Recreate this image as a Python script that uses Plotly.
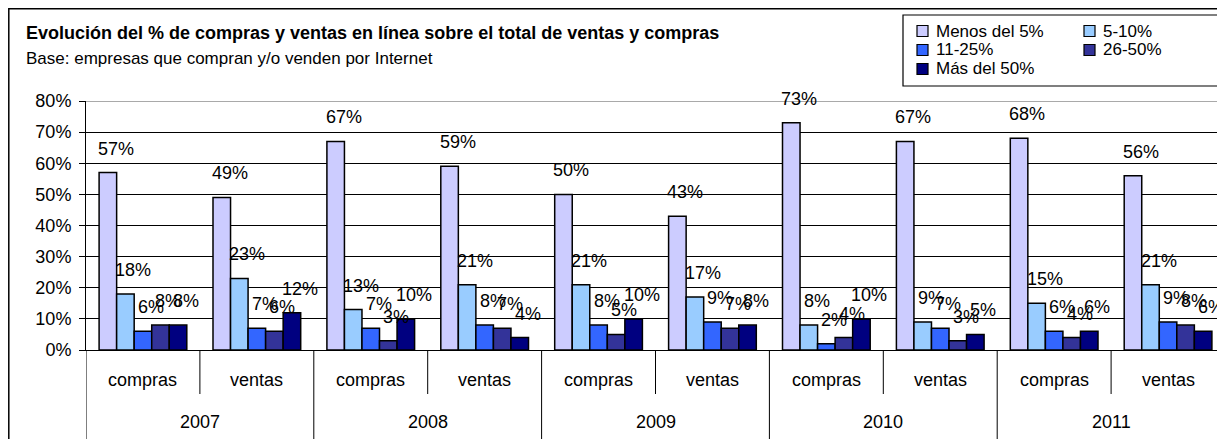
import plotly.graph_objects as go

# ---------------- data ----------------
years = ["2007", "2008", "2009", "2010", "2011"]
kinds = ["compras", "ventas"]
series_names = ["Menos del 5%", "5-10%", "11-25%", "26-50%", "Más del 50%"]
menos_5 = [57, 49, 67, 59, 50, 43, 73, 67, 68, 56]
de_5_10 = [18, 23, 13, 21, 21, 17, 8, 9, 15, 21]
de_11_25 = [6, 7, 7, 8, 8, 9, 2, 7, 6, 9]
de_26_50 = [8, 6, 3, 7, 5, 7, 4, 3, 4, 8]
mas_50 = [8, 12, 10, 4, 10, 8, 10, 5, 6, 6]
y_ticks = [0, 10, 20, 30, 40, 50, 60, 70, 80]

title_text = "Evolución del % de compras y ventas en línea sobre el total de ventas y compras"
subtitle_text = "Base: empresas que compran y/o venden por Internet"

# ---------------- styling ----------------
FONT = "Arial, 'Liberation Sans', sans-serif"
colors = ["#CCCCFF", "#99CCFF", "#3366FF", "#333399", "#000080"]
BARGAP = 0.23

OFF = 8  # page body margin
W, H = 1225 - OFF, 439 - OFF
ML, MR, MT, MB = 86 - OFF, 0, 101 - OFF, 439 - 350
PW = W - ML - MR
PH = H - MT - MB


def px_x(px):
    """reference-picture pixel x -> paper x"""
    return (px - OFF - ML) / PW


def px_y(py):
    """reference-picture pixel y -> paper y"""
    return (H + OFF - MB - py) / PH


categories = [(y, k) for y in years for k in kinds]
xpos = list(range(len(categories)))
all_series = [menos_5, de_5_10, de_11_25, de_26_50, mas_50]

fig = go.Figure()
for j, (name, vals) in enumerate(zip(series_names, all_series)):
    fig.add_trace(go.Bar(
        x=xpos, y=vals, name=name,
        marker=dict(color=colors[j], line=dict(color="black", width=1.5)),
        hoverinfo="skip", showlegend=False,
    ))

# value labels
n = len(all_series)
bw = (1 - BARGAP) / n
annotations = []
for j, vals in enumerate(all_series):
    off = -(1 - BARGAP) / 2 + (j + 0.5) * bw
    for i, v in enumerate(vals):
        annotations.append(dict(
            x=i + off, y=v, xref="x", yref="y",
            text=f"{v}%", showarrow=False,
            xanchor="center", yanchor="middle",
            xshift=8, yshift=24,
            font=dict(family=FONT, size=18, color="black"),
        ))

# category labels (two levels)
for i, (yr, k) in enumerate(categories):
    annotations.append(dict(
        x=i, y=px_y(380), xref="x", yref="paper", text=k, showarrow=False,
        xanchor="center", yanchor="middle",
        font=dict(family=FONT, size=18, color="black"),
    ))
for yi, yr in enumerate(years):
    annotations.append(dict(
        x=2 * yi + 0.5, y=px_y(422), xref="x", yref="paper", text=yr, showarrow=False,
        xanchor="center", yanchor="middle",
        font=dict(family=FONT, size=18, color="black"),
    ))

# title & subtitle
annotations.append(dict(
    x=px_x(24), y=px_y(33), xref="paper", yref="paper", text=f"<b>{title_text}</b>",
    showarrow=False, xanchor="left", yanchor="middle",
    font=dict(family=FONT, size=18, color="black"),
))
annotations.append(dict(
    x=px_x(24), y=px_y(58), xref="paper", yref="paper", text=subtitle_text,
    showarrow=False, xanchor="left", yanchor="middle",
    font=dict(family=FONT, size=17, color="black"),
))

shapes = []
# inner dividers (between compras / ventas)
for yi in range(len(years)):
    xm = 2 * yi + 0.5
    shapes.append(dict(type="line", xref="x", yref="paper", x0=xm, x1=xm,
                       y0=0, y1=px_y(394), line=dict(color="black", width=1)))
# outer dividers (between years)
for yi in range(len(years) + 1):
    xm = 2 * yi - 0.5
    shapes.append(dict(type="line", xref="x", yref="paper", x0=xm, x1=xm,
                       y0=0, y1=px_y(450), line=dict(color="black", width=1)))
# plot area top border (grey)
shapes.append(dict(type="line", xref="paper", yref="y", x0=0, x1=1, y0=80, y1=80,
                   line=dict(color="#8c8c8c", width=1.5)))
# chart outer border
shapes.append(dict(type="rect", xref="paper", yref="paper",
                   x0=px_x(8.8), x1=px_x(1240), y0=px_y(450), y1=px_y(8.8),
                   line=dict(color="black", width=1.5), fillcolor="rgba(0,0,0,0)"))

# legend (box + swatches + texts)
shapes.append(dict(type="rect", xref="paper", yref="paper",
                   x0=px_x(903), x1=px_x(1240), y0=px_y(86), y1=px_y(15),
                   line=dict(color="black", width=1.2), fillcolor="white", layer="below"))
legend_cols = [917, 1084]      # swatch left edge (px)
legend_rows = [31, 50, 69]     # row centre (px)
legend_slots = [(0, 0), (1, 0), (0, 1), (1, 1), (0, 2)]
SW = 11
for j, name in enumerate(series_names):
    c, r = legend_slots[j]
    x0 = legend_cols[c]
    yc = legend_rows[r]
    shapes.append(dict(type="rect", xref="paper", yref="paper",
                       x0=px_x(x0), x1=px_x(x0 + SW),
                       y0=px_y(yc + SW / 2), y1=px_y(yc - SW / 2),
                       line=dict(color="black", width=1.2), fillcolor=colors[j]))
    annotations.append(dict(
        x=px_x(x0 + SW + 6), y=px_y(yc), xref="paper", yref="paper", text=name,
        showarrow=False, xanchor="left", yanchor="middle",
        font=dict(family=FONT, size=17, color="black"),
    ))

fig.update_layout(
    width=W, height=H, autosize=False,
    margin=dict(l=ML, r=MR, t=MT, b=MB, pad=0),
    paper_bgcolor="white", plot_bgcolor="white",
    barmode="group", bargap=BARGAP, bargroupgap=0,
    showlegend=False,
    xaxis=dict(range=[-0.5, len(categories) - 0.5], showticklabels=False,
               showgrid=False, zeroline=False, showline=True,
               linecolor="black", linewidth=1, ticks=""),
    yaxis=dict(range=[0, 80], tickmode="array", tickvals=y_ticks,
               ticktext=[f"{t}%" for t in y_ticks],
               showgrid=True, gridcolor="black", gridwidth=1,
               zeroline=False, showline=True, linecolor="black", linewidth=1,
               ticks="outside", ticklen=6, tickcolor="black",
               ticklabelstandoff=4,
               tickfont=dict(family=FONT, size=18, color="black")),
    annotations=annotations,
    shapes=shapes,
    font=dict(family=FONT, color="black"),
)

fig.write_html("out.html")
